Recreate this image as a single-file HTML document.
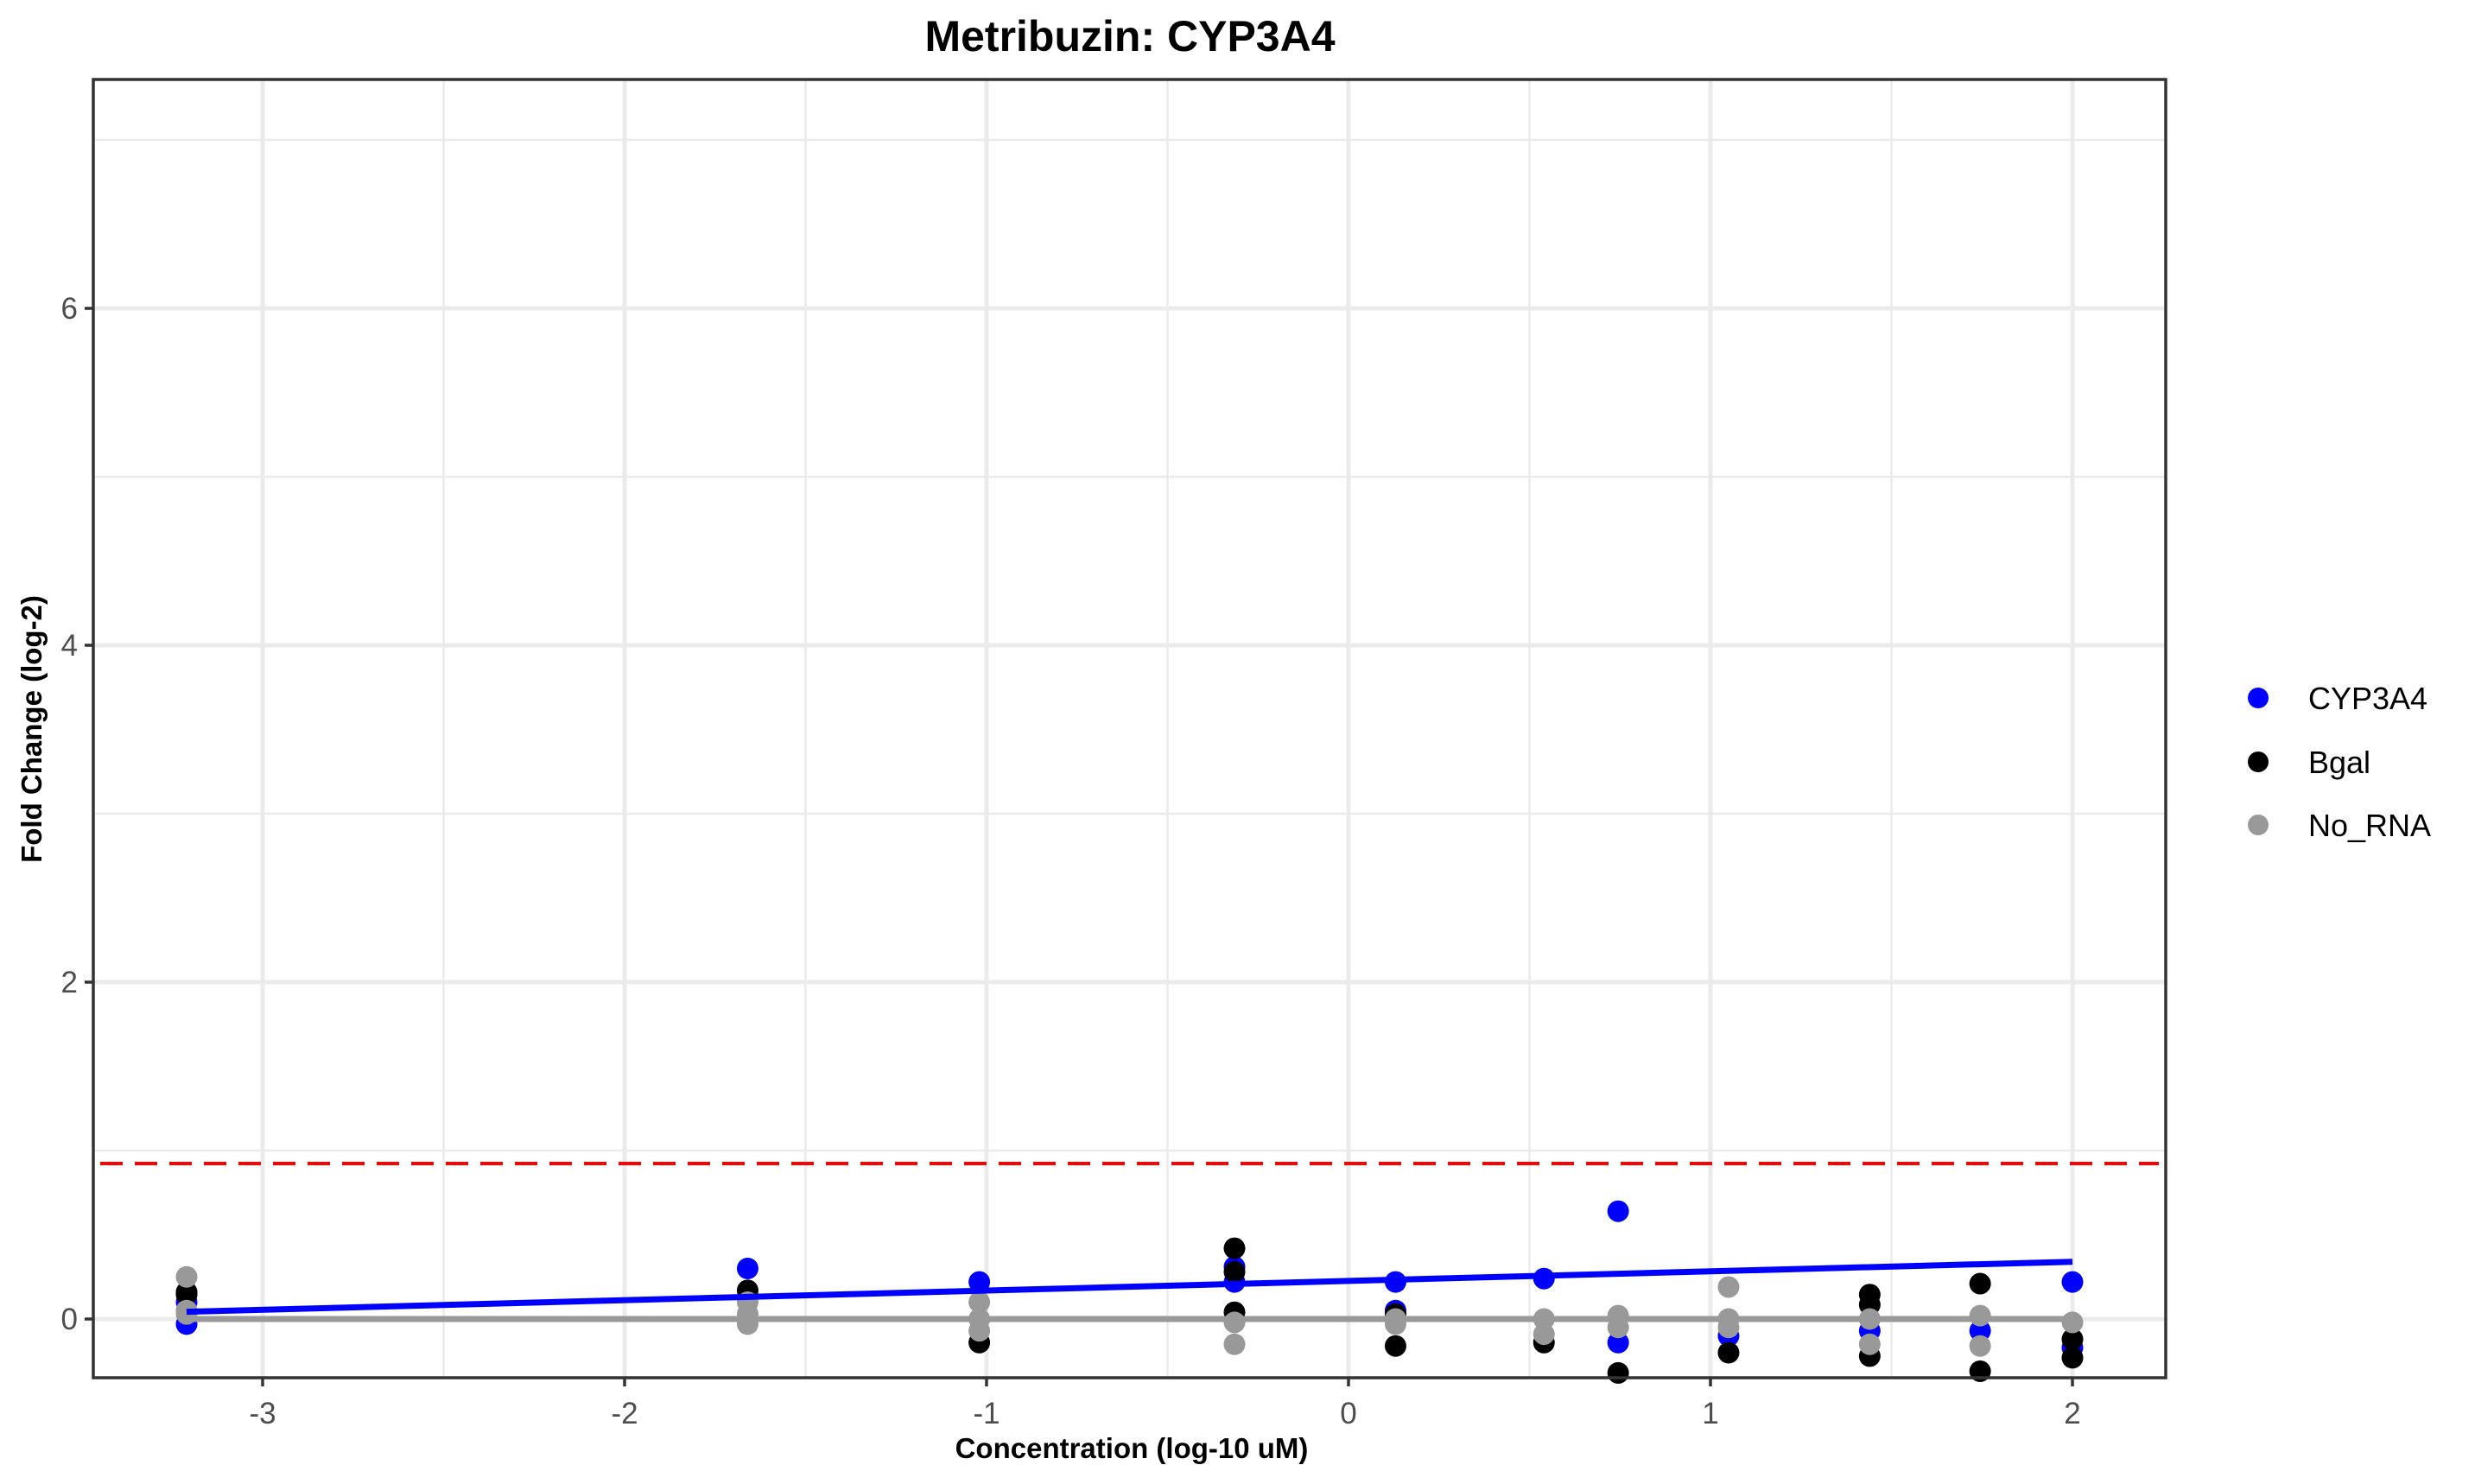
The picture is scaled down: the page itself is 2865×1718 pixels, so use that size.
<!DOCTYPE html>
<html><head><meta charset="utf-8"><style>
html,body{margin:0;padding:0;background:#fff;}
svg{display:block;font-family:"Liberation Sans",Arial,sans-serif;}
</style></head><body>
<svg id="chart" width="2865" height="1718" viewBox="0 0 2865 1718" xmlns="http://www.w3.org/2000/svg">
<rect width="2865" height="1718" fill="#fff"/>
<text x="1308" y="59" font-size="50" font-weight="bold" text-anchor="middle" fill="#000">Metribuzin: CYP3A4</text>
<g id="grid"></g><g id="marks"></g><g id="axes"></g>
<text x="1310" y="1688" font-size="33" font-weight="bold" text-anchor="middle" fill="#000">Concentration (log-10 uM)</text>
<text transform="translate(48,844) rotate(-90)" font-size="33" font-weight="bold" text-anchor="middle" fill="#000">Fold Change (log-2)</text>
<g>
<circle cx="2614" cy="808" r="12" fill="#0000ff"/>
<text x="2672" y="821" font-size="36" fill="#000">CYP3A4</text>
<circle cx="2614" cy="882" r="12" fill="#000"/>
<text x="2672" y="895" font-size="36" fill="#000">Bgal</text>
<circle cx="2614" cy="955" r="12" fill="#999"/>
<text x="2672" y="968" font-size="36" fill="#000">No_RNA</text>
</g>
</svg>
<script>
const xTicks = [-3,-2,-1,0,1,2];
const xMinor = [-2.5,-1.5,-0.5,0.5,1.5];
const yTicks = [0,2,4,6];
const yMinor = [1,3,5,7];
const threshold = 0.923;
const cypX = [-3.21,-3.21,-1.66,-1.02,-0.315,-0.315,0.13,0.13,0.54,0.745,0.745,1.05,1.44,1.745,2.0,2.0];
const cypY = [-0.03,0.10,0.30,0.22,0.31,0.22,0.22,0.05,0.24,0.64,-0.14,-0.10,-0.07,-0.07,0.22,-0.17];
const bgalX = [-3.21,-3.21,-1.66,-1.02,-0.315,-0.315,-0.315,0.13,0.13,0.54,0.745,1.05,1.44,1.44,1.44,1.745,1.745,2.0,2.0];
const bgalY = [0.16,0.145,0.17,-0.14,0.42,0.28,0.04,0.03,-0.16,-0.14,-0.32,-0.20,0.145,0.085,-0.22,0.21,-0.31,-0.12,-0.23];
const noX = [-3.21,-3.21,-3.21,-1.66,-1.66,-1.66,-1.02,-1.02,-1.02,-0.315,-0.315,0.13,0.13,0.54,0.54,0.745,0.745,1.05,1.05,1.05,1.44,1.44,1.745,1.745,2.0];
const noY = [0.25,0.03,0.05,0.10,-0.03,0.03,0.10,-0.07,0,-0.02,-0.15,-0.03,0,0,-0.09,0.02,-0.05,0.19,0,-0.05,0,-0.15,0.02,-0.16,-0.02];
const cypFitX = [-3.21,2.0];
const cypFitY = [0.043,0.34];
const noFitX = [-3.21,2.0];
const noFitY = [0,0];

const L=108,R=2507,T=92,B=1595;
const sx=v=>1561+v*419;
const sy=v=>1527-v*195;
const NS="http://www.w3.org/2000/svg";
function mk(tag,attrs,parent){const e=document.createElementNS(NS,tag);for(const k in attrs)e.setAttribute(k,attrs[k]);parent.appendChild(e);return e;}
const grid=document.getElementById('grid'),marks=document.getElementById('marks'),axes=document.getElementById('axes');
mk('rect',{x:L,y:T,width:R-L,height:B-T,fill:'#fff'},grid);
xMinor.forEach(v=>{const e=mk('line',{x1:sx(v),x2:sx(v),y1:T,y2:B,stroke:'#ebebeb','stroke-width':2.5},grid);

});
yMinor.forEach(v=>{const e=mk('line',{x1:L,x2:R,y1:sy(v),y2:sy(v),stroke:'#ebebeb','stroke-width':2.5},grid);

});
xTicks.forEach(v=>{const e=mk('line',{x1:sx(v),x2:sx(v),y1:T,y2:B,stroke:'#ebebeb','stroke-width':5},grid);

});
yTicks.forEach(v=>{const e=mk('line',{x1:L,x2:R,y1:sy(v),y2:sy(v),stroke:'#ebebeb','stroke-width':5},grid);

});
const th=mk('line',{x1:L+8,x2:R-8,y1:sy(threshold),y2:sy(threshold),stroke:'#ff0000','stroke-width':4,'stroke-dasharray':'26 14'},marks);


function pts(xs,ys,col,name){xs.forEach((x,i)=>{const c=mk('circle',{cx:sx(x),cy:sy(ys[i]),r:12.5,fill:col},marks);

});}
pts(cypX,cypY,'#0000ff','point-cyp3a4');
pts(bgalX,bgalY,'#000000','point-bgal');
pts(noX,noY,'#999999','point-no-rna');
const l1=mk('line',{x1:sx(cypFitX[0]),y1:sy(cypFitY[0]),x2:sx(cypFitX[1]),y2:sy(cypFitY[1]),stroke:'#0000ff','stroke-width':7},marks);


const l2=mk('line',{x1:sx(noFitX[0]),y1:sy(noFitY[0]),x2:sx(noFitX[1]),y2:sy(noFitY[1]),stroke:'#999999','stroke-width':7},marks);


const border=mk('rect',{x:L,y:T,width:R-L,height:B-T,fill:'none',stroke:'#333','stroke-width':3.5},axes);


xTicks.forEach(v=>{mk('line',{x1:sx(v),x2:sx(v),y1:B,y2:B+10,stroke:'#333','stroke-width':3.5},axes);
const t=mk('text',{x:sx(v),y:B+53,'font-size':35,'text-anchor':'middle',fill:'#4d4d4d'},axes);t.textContent=v;

});
yTicks.forEach(v=>{mk('line',{x1:L-10,x2:L,y1:sy(v),y2:sy(v),stroke:'#333','stroke-width':3.5},axes);
const t=mk('text',{x:L-18,y:sy(v)+12,'font-size':35,'text-anchor':'end',fill:'#4d4d4d'},axes);t.textContent=v;

});
</script>
</body></html>
